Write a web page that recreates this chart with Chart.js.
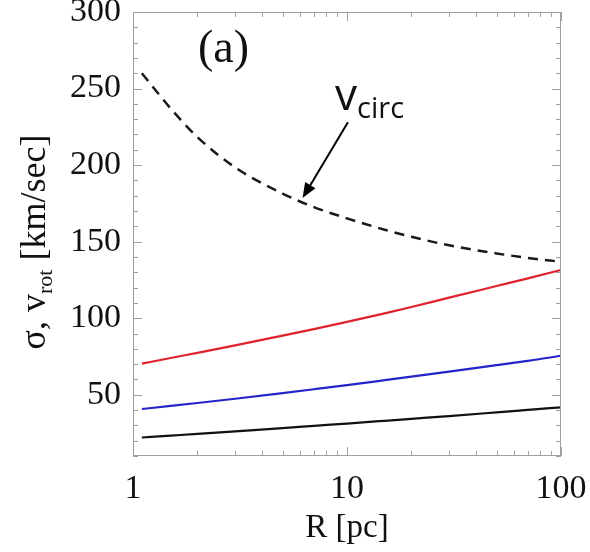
<!DOCTYPE html>
<html>
<head>
<meta charset="utf-8">
<script src="https://cdn.jsdelivr.net/npm/chart.js@4.4.1/dist/chart.umd.min.js"></script>
<style>
  html, body { margin: 0; padding: 0; background: #fff; }
  #graph { display: block; }
</style>
</head>
<body>
<canvas id="graph" width="590" height="552"></canvas>
<script>
// radius samples (pc) and velocities (km/sec)
const radii = [1.1, 1.5, 2, 3, 5, 7, 10, 15, 20, 30, 50, 70, 100];
const vCirc = [260, 237, 218.3, 198.5, 181.4, 172.6, 165.2, 157.8, 153.2, 147.6, 142.3, 139.4, 136.8];
const vRed = [70.3, 74.0, 77.4, 82.3, 88.6, 92.9, 97.6, 103.2, 107.3, 113.4, 121.0, 126.0, 131.5];
const vBlue = [40.7, 42.7, 44.6, 47.4, 51.1, 53.6, 56.3, 59.5, 61.8, 65.1, 69.3, 72.1, 75.5];
const vBlack = [22.1, 23.3, 24.4, 26.1, 28.2, 29.7, 31.2, 33.0, 34.3, 36.1, 38.5, 40.1, 41.8];

const xTicks = [1, 10, 100];
const yTicks = [50, 100, 150, 200, 250, 300];

const serif = "'Liberation Serif', 'DejaVu Serif', serif";
const sans = "'Open Sans', 'DejaVu Sans', sans-serif";

const toPoints = vals => vals.map((v, i) => ({ x: radii[i], y: v }));

// frame with inward ticks on all four sides, plus the labels
const framePlugin = {
    id: 'frame',
    afterDraw(chart) {
        const { ctx, chartArea: a, scales: { x, y } } = chart;
        ctx.save();
        ctx.strokeStyle = '#a0a0a0';
        ctx.lineWidth = 1;
        ctx.strokeRect(a.left + 0.5, a.top + 0.5, a.width - 1, a.height - 1);

        ctx.beginPath();
        // y ticks every 10
        for (let v = 10; v <= 300; v += 10) {
            const py = Math.round(y.getPixelForValue(v)) + 0.5;
            const len = v % 50 === 0 ? 9 : 5;
            ctx.moveTo(a.left, py); ctx.lineTo(a.left + len, py);
            ctx.moveTo(a.right, py); ctx.lineTo(a.right - len, py);
        }
        // x ticks, log decades
        for (const dec of [1, 10]) {
            for (let k = 1; k <= 10; k++) {
                const px = Math.round(x.getPixelForValue(k * dec)) + 0.5;
                const len = (k === 1 || k === 10) ? 9 : 5;
                ctx.moveTo(px, a.bottom); ctx.lineTo(px, a.bottom - len);
                ctx.moveTo(px, a.top); ctx.lineTo(px, a.top + len);
            }
        }
        ctx.stroke();

        // y axis title, rotated, with subscript
        ctx.fillStyle = '#111';
        ctx.translate(45, 242);
        ctx.rotate(-Math.PI / 2);
        const big = '36px ' + serif, small = '22px ' + serif;
        const parts = [['σ, v', big, 0], ['rot', small, 7], [' [km/sec]', big, 0]];
        let total = 0;
        parts.forEach(p => { ctx.font = p[1]; total += ctx.measureText(p[0]).width; });
        let cx = -total / 2;
        ctx.textBaseline = 'alphabetic';
        parts.forEach(p => {
            ctx.font = p[1];
            ctx.fillText(p[0], cx, p[2]);
            cx += ctx.measureText(p[0]).width;
        });
        ctx.restore();

        // panel tag
        ctx.save();
        ctx.fillStyle = '#111';
        ctx.font = '46px ' + serif;
        ctx.textAlign = 'center';
        ctx.textBaseline = 'middle';
        ctx.fillText('(a)', x.getPixelForValue(2.65), y.getPixelForValue(275));

        // v_circ annotation
        ctx.textAlign = 'left';
        ctx.textBaseline = 'alphabetic';
        const lx = x.getPixelForValue(8.8), ly = y.getPixelForValue(236);
        ctx.font = '44px ' + sans;
        ctx.fillText('v', lx, ly);
        const vw = ctx.measureText('v').width;
        ctx.font = '29px ' + sans;
        ctx.fillText('circ', lx + vw, ly + 8);

        // arrow
        const x0 = x.getPixelForValue(10.1), y0 = y.getPixelForValue(228);
        const x1 = x.getPixelForValue(6.2), y1 = y.getPixelForValue(178.5);
        const ang = Math.atan2(y1 - y0, x1 - x0);
        const head = 15, half = 6;
        ctx.strokeStyle = '#000';
        ctx.lineWidth = 2;
        ctx.beginPath();
        ctx.moveTo(x0, y0);
        ctx.lineTo(x1 - head * Math.cos(ang), y1 - head * Math.sin(ang));
        ctx.stroke();
        ctx.beginPath();
        ctx.moveTo(x1, y1);
        ctx.lineTo(x1 - head * Math.cos(ang) + half * Math.sin(ang), y1 - head * Math.sin(ang) - half * Math.cos(ang));
        ctx.lineTo(x1 - head * Math.cos(ang) - half * Math.sin(ang), y1 - head * Math.sin(ang) + half * Math.cos(ang));
        ctx.closePath();
        ctx.fillStyle = '#000';
        ctx.fill();
        ctx.restore();
    }
};

const ctx = document.getElementById('graph').getContext('2d');

new Chart(ctx, {
    type: 'line',
    data: {
        datasets: [
            { label: 'v_circ', data: toPoints(vCirc), borderColor: '#1a1a1a', borderWidth: 2.5, borderDash: [10, 7] },
            { label: 'red', data: toPoints(vRed), borderColor: '#e0222c', borderWidth: 2.2 },
            { label: 'blue', data: toPoints(vBlue), borderColor: '#2424c8', borderWidth: 2.2 },
            { label: 'black', data: toPoints(vBlack), borderColor: '#111', borderWidth: 2.2 },
        ],
    },
    options: {
        responsive: false,
        animation: false,
        events: [],
        elements: {
            point: { radius: 0 },
            line: { cubicInterpolationMode: 'monotone', fill: false },
        },
        layout: { padding: { top: 12, right: 29, left: 0, bottom: 0 } },
        plugins: {
            legend: { display: false },
            tooltip: { enabled: false },
        },
        scales: {
            x: {
                type: 'logarithmic',
                min: 1,
                max: 100,
                grid: { display: false, drawTicks: false },
                border: { display: false },
                afterBuildTicks: scale => { scale.ticks = xTicks.map(v => ({ value: v })); },
                afterFit: scale => {
                    scale.height = 96;
                    scale.paddingLeft = 0; scale.paddingRight = 0;
                },
                ticks: {
                    padding: 13,
                    maxRotation: 0,
                    color: '#111',
                    font: { family: serif, size: 34 },
                    callback: v => String(v),
                },
                title: {
                    display: true,
                    text: 'R [pc]',
                    color: '#111',
                    font: { family: serif, size: 33 },
                    padding: { top: 6 },
                },
            },
            y: {
                min: 10,
                max: 300,
                grid: { display: false, drawTicks: false },
                border: { display: false },
                afterBuildTicks: scale => { scale.ticks = yTicks.map(v => ({ value: v })); },
                afterFit: scale => {
                    scale.width = 133;
                    scale.paddingTop = 0; scale.paddingBottom = 0;
                },
                ticks: {
                    padding: 12,
                    color: '#111',
                    font: { family: serif, size: 34 },
                },
            },
        },
    },
    plugins: [framePlugin],
});
</script>
</body>
</html>
